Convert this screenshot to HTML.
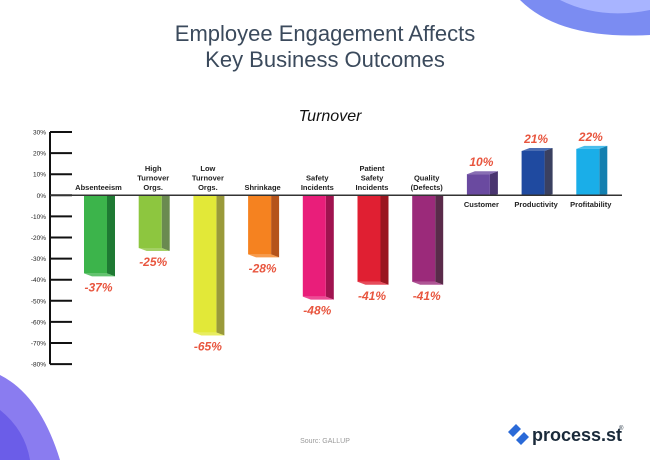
<!DOCTYPE html>
<html><head><meta charset="utf-8"><style>
body{margin:0;width:650px;height:460px;overflow:hidden;background:#fff;font-family:"Liberation Sans",sans-serif;position:relative}
</style></head><body>
<svg width="650" height="460" style="position:absolute;left:0;top:0">
<path d="M520 0 Q560 40 650 35 L650 0 Z" fill="#7b8cf2"/>
<path d="M560 0 Q600 20 650 10 L650 0 Z" fill="#a8b4ff"/>
<path d="M0 375 Q40 395 60 460 L0 460 Z" fill="#8a7cf0"/>
<path d="M0 410 Q25 430 30 460 L0 460 Z" fill="#6b5de8"/>
<text x="325" y="41" text-anchor="middle" font-size="22" fill="#3b4a5c">Employee Engagement Affects</text>
<text x="325" y="67" text-anchor="middle" font-size="22" fill="#3b4a5c">Key Business Outcomes</text>
<text x="330" y="121" text-anchor="middle" font-size="16" font-style="italic" fill="#111">Turnover</text>
<g id="axis"></g><g id="bars"></g>
<text x="325" y="443" text-anchor="middle" font-size="7" fill="#999">Sourc: GALLUP</text>
<g>
<path d="M508 432 l8-8 l5 5 l-8 8 z M516 440 l8-8 l5 5 l-8 8z" fill="#2a6ad8"/>
<text x="532" y="441" font-size="18" font-weight="bold" fill="#1a2a3a">process.st</text>
<text x="619" y="430" font-size="6" fill="#1a2a3a">®</text>
</g>
</svg>
<script>
const categories=[["Absenteeism"],["High","Turnover","Orgs."],["Low","Turnover","Orgs."],["Shrinkage"],["Safety","Incidents"],["Patient","Safety","Incidents"],["Quality","(Defects)"],["Customer"],["Productivity"],["Profitability"]];
const values=[-37,-25,-65,-28,-48,-41,-41,10,21,22];
const valueLabels=["-37%","-25%","-65%","-28%","-48%","-41%","-41%","10%","21%","22%"];
const ticks=[30,20,10,0,-10,-20,-30,-40,-50,-60,-70,-80];
const fronts=["#3cb44b","#8dc63f","#e2e838","#f58220","#e91e7a","#e01f32","#9b2a7a","#6a4aa0","#1f4aa0","#1aaee8"];
const sides=["#1f7a33","#6a8a50","#9a9a3a","#b5541b","#a0134f","#9a1620","#5a2a4a","#4a3570","#3a4060","#1480b0"];
const NS="http://www.w3.org/2000/svg";
const y=v=>195.3-v*2.11;
const x=i=>84+i*54.7;
function mk(t,a,p){const e=document.createElementNS(NS,t);for(const k in a)e.setAttribute(k,a[k]);p.appendChild(e);return e;}
const ax=document.getElementById('axis'),bg=document.getElementById('bars');
const al=mk('line',{x1:50,x2:50,y1:y(30),y2:y(-80),stroke:'#111','stroke-width':2},ax);


ticks.forEach(t=>{
 const l=mk('line',{x1:50,x2:72,y1:y(t),y2:y(t),stroke:'#111','stroke-width':2},ax);
 
 
 const tx=mk('text',{x:46,y:y(t)+2.5,'text-anchor':'end','font-size':6.5,fill:'#222'},ax);
 tx.textContent=t+'%';
 
 
});
values.forEach((v,i)=>{
 const x0=x(i),w=23,d=8,y0=y(0),y1=y(v);
 const g=mk('g',{},bg);
 
 
 if(v<0){
  mk('polygon',{points:`${x0+w},${y0} ${x0+w+d},${y0} ${x0+w+d},${y1+3} ${x0+w},${y1}`,fill:sides[i]},g);
  mk('rect',{x:x0,y:y0,width:w,height:y1-y0,fill:fronts[i]},g);
  mk('polygon',{points:`${x0},${y1} ${x0+w},${y1} ${x0+w+d},${y1+3} ${x0+d},${y1+3}`,fill:fronts[i],opacity:.8},g);
 }else{
  mk('polygon',{points:`${x0+w},${y1} ${x0+w+d},${y1-3} ${x0+w+d},${y0-1} ${x0+w},${y0}`,fill:sides[i]},g);
  mk('rect',{x:x0,y:y1,width:w,height:y0-y1,fill:fronts[i]},g);
  mk('polygon',{points:`${x0},${y1} ${x0+d},${y1-3} ${x0+w+d},${y1-3} ${x0+w},${y1}`,fill:fronts[i],opacity:.8},g);
 }
 const vl=mk('text',{x:x0+w/2+3,y:v<0?y1+18:y1-8,'text-anchor':'middle','font-size':12,'font-style':'italic','font-weight':'bold',fill:'#e8553e'},g);
 vl.textContent=valueLabels[i];
 
 
 const lines=categories[i];
 lines.forEach((s,k)=>{
  const ty=v<0?190-(lines.length-1-k)*9.5:207+k*9.5;
  const t=mk('text',{x:x0+w/2+3,y:ty,'text-anchor':'middle','font-size':7.5,'font-weight':'bold',fill:'#222'},g);
  t.textContent=s;
  
  
 });
});
const zl=mk('line',{x1:50,x2:622,y1:y(0),y2:y(0),stroke:'#333','stroke-width':1.5},ax);


bg.appendChild(zl);
</script>
</body></html>
